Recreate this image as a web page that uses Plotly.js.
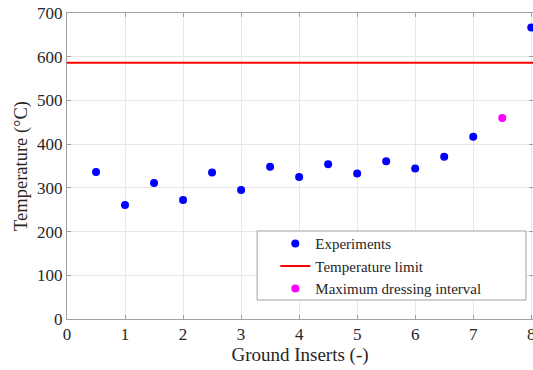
<!DOCTYPE html>
<html><head><script src="https://cdn.plot.ly/plotly-3.0.1.min.js"></script>
<style>html,body{margin:0;padding:0;background:#fff;}</style></head>
<body><div id="chart" style="width:533px;height:370px;"></div>
<script>
const expX = [0.5, 1, 1.5, 2, 2.5, 3, 3.5, 4, 4.5, 5, 5.5, 6, 6.5, 7, 8];
const expY = [336, 261, 311, 272, 335, 295, 348, 325, 354, 333, 361, 344, 371, 417, 667];
const limitX = [0, 8.03];
const limitY = [586, 586];
const maxX = [7.5];
const maxY = [460];
const xTicks = [0, 1, 2, 3, 4, 5, 6, 7, 8];
const yTicks = [0, 100, 200, 300, 400, 500, 600, 700];

const font = "Liberation Serif, DejaVu Serif, serif";
const traces = [
  {x: expX, y: expY, type: 'scatter', mode: 'markers', name: 'Experiments',
   marker: {color: '#0000ff', size: 8}},
  {x: limitX, y: limitY, type: 'scatter', mode: 'lines', name: 'Temperature limit',
   line: {color: '#ff0000', width: 2}},
  {x: maxX, y: maxY, type: 'scatter', mode: 'markers', name: 'Maximum dressing interval',
   marker: {color: '#ff00ff', size: 8}}
];
const axisCommon = {
  showgrid: true, gridcolor: '#e8e8e8', gridwidth: 1,
  showline: true, linecolor: '#a0a0a0', linewidth: 1, mirror: 'ticks',
  ticks: 'inside', ticklen: 4, tickcolor: '#a0a0a0',
  zeroline: false, tickfont: {family: font, size: 17, color: '#262626'}
};
const layout = {
  width: 533, height: 370,
  margin: {l: 67, r: 0, t: 13, b: 51},
  paper_bgcolor: '#fff', plot_bgcolor: '#fff',
  font: {family: font, color: '#262626'},
  xaxis: Object.assign({}, axisCommon, {range: [0, 8.03], tickvals: xTicks,
    ticklabeloverflow: 'allow',
    title: {text: 'Ground Inserts (-)', font: {family: font, size: 19, color: '#262626'}, standoff: 4}}),
  yaxis: Object.assign({}, axisCommon, {range: [0, 700], tickvals: yTicks,
    title: {text: 'Temperature (°C)', font: {family: font, size: 18.5, color: '#262626'}, standoff: 4}}),
  showlegend: true,
  legend: {x: 0.447, xanchor: 'left', y: 0.3, yanchor: 'top',
    bgcolor: 'rgba(0,0,0,0)', borderwidth: 0,
    font: {family: font, size: 15, color: '#262626'}},
  shapes: [{type: 'rect', xref: 'paper', yref: 'paper', x0: 0.408, x1: 0.985, y0: 0.062, y1: 0.2876,
    line: {color: '#a0a0a0', width: 1}, fillcolor: '#fff', layer: 'above'}]
};
Plotly.newPlot('chart', traces, layout, {displayModeBar: false, staticPlot: true});
</script></body></html>
